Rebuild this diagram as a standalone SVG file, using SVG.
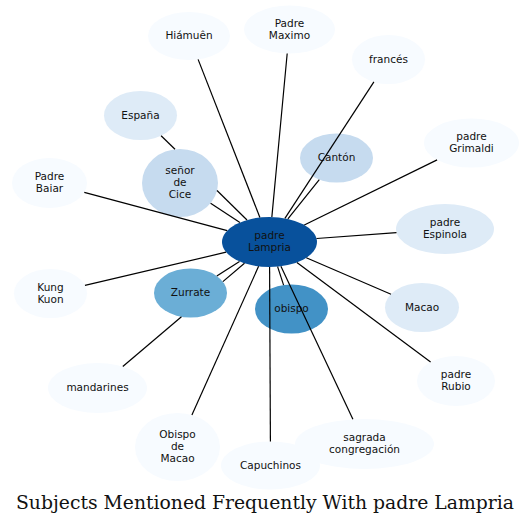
<svg xmlns="http://www.w3.org/2000/svg" width="531" height="526" viewBox="0 0 531 526">
<style>
.n text{font-family:"DejaVu Sans",sans-serif;font-size:10.5px;text-anchor:middle;fill:#111}
.c0{fill:#f7fbff}.c1{fill:#deebf7}.c2{fill:#c6dbef}.c3{fill:#6baed6}.c4{fill:#4292c6}.c5{fill:#08519c}
#edges line{stroke:#000;stroke-width:1.2}
.title{font-family:"DejaVu Serif","Liberation Serif",serif;font-size:18px;text-anchor:middle;fill:#111}
</style>
<rect width="531" height="526" fill="#fff"/>
<g id="nodes" class="n">
<g id="n-hiamuen"><ellipse class="c0" cx="189" cy="36" rx="41" ry="24"/><text x="189" y="39">Hiámuên</text></g>
<g id="n-maximo"><ellipse class="c0" cx="289.5" cy="29.5" rx="45.5" ry="24"/><text x="289.5" y="26.6">Padre</text><text x="289.5" y="38.8">Maximo</text></g>
<g id="n-frances"><ellipse class="c0" cx="388.5" cy="59.5" rx="36.5" ry="24.5"/><text x="388.5" y="62.5">francés</text></g>
<g id="n-espana"><ellipse class="c1" cx="140.5" cy="115.5" rx="36.5" ry="24.5"/><text x="140.5" y="118.5">España</text></g>
<g id="n-cice"><ellipse class="c2" cx="180" cy="183" rx="38" ry="34"/><text x="180" y="174">señor</text><text x="180" y="185.8">de</text><text x="180" y="197.6">Cice</text></g>
<g id="n-baiar"><ellipse class="c0" cx="49.5" cy="183" rx="37.5" ry="25"/><text x="49.5" y="180.1">Padre</text><text x="49.5" y="192.3">Baiar</text></g>
<g id="n-canton"><ellipse class="c2" cx="336.5" cy="158" rx="36.5" ry="24.5"/><text x="336.5" y="161">Cantón</text></g>
<g id="n-grimaldi"><ellipse class="c0" cx="471.5" cy="143" rx="47.5" ry="24.5"/><text x="471.5" y="140.1">padre</text><text x="471.5" y="152.3">Grimaldi</text></g>
<g id="n-espinola"><ellipse class="c1" cx="445" cy="229" rx="49" ry="25"/><text x="445" y="226.1">padre</text><text x="445" y="238.3">Espinola</text></g>
<g id="n-kung"><ellipse class="c0" cx="50.5" cy="293.5" rx="36.5" ry="24.5"/><text x="50.5" y="290.6">Kung</text><text x="50.5" y="302.8">Kuon</text></g>
<g id="n-zurrate"><ellipse class="c3" cx="190.5" cy="293" rx="36.5" ry="24.5"/><text x="190.5" y="296">Zurrate</text></g>
<g id="n-obispo"><ellipse class="c4" cx="291.5" cy="309" rx="36.5" ry="24.5"/><text x="291.5" y="312">obispo</text></g>
<g id="n-macao"><ellipse class="c1" cx="422" cy="307.5" rx="37" ry="24.5"/><text x="422" y="310.5">Macao</text></g>
<g id="n-rubio"><ellipse class="c0" cx="456" cy="381" rx="39" ry="25"/><text x="456" y="378.1">padre</text><text x="456" y="390.3">Rubio</text></g>
<g id="n-mandarines"><ellipse class="c0" cx="97.5" cy="388" rx="49.5" ry="25"/><text x="97.5" y="391">mandarines</text></g>
<g id="n-obispomacao"><ellipse class="c0" cx="177.5" cy="447" rx="42.5" ry="34"/><text x="177.5" y="438">Obispo</text><text x="177.5" y="449.8">de</text><text x="177.5" y="461.6">Macao</text></g>
<g id="n-capuchinos"><ellipse class="c0" cx="270.5" cy="465.5" rx="49.5" ry="24"/><text x="270.5" y="468.5">Capuchinos</text></g>
<g id="n-sagrada"><ellipse class="c0" cx="364.5" cy="444" rx="69.5" ry="25"/><text x="364.5" y="441.1">sagrada</text><text x="364.5" y="453.3">congregación</text></g>
<g id="n-lampria"><ellipse class="c5" cx="269.5" cy="242" rx="47.5" ry="25"/><text x="269.5" y="239.1">padre</text><text x="269.5" y="251.3">Lampria</text></g>
</g>
<g id="edges">
<line x1="259.9" y1="217.5" x2="198.1" y2="59.4"/>
<line x1="271.85" y1="217" x2="287.2" y2="53.5"/>
<line x1="284.9" y1="218.35" x2="373.9" y2="81.95"/>
<line x1="161.1" y1="135.7" x2="175" y2="149.3"/>
<line x1="217" y1="190.5" x2="247" y2="220"/>
<line x1="239.9" y1="222.5" x2="210.6" y2="203.2"/>
<line x1="227.2" y1="230.65" x2="84.3" y2="192.3"/>
<line x1="287.9" y1="218.95" x2="319.3" y2="179.6"/>
<line x1="304.3" y1="224.96" x2="437.1" y2="159.9"/>
<line x1="316.5" y1="238.5" x2="396.5" y2="232.6"/>
<line x1="226.1" y1="252.2" x2="84.95" y2="285.4"/>
<line x1="239.5" y1="261.4" x2="216.8" y2="276"/>
<line x1="122.8" y1="366.5" x2="181.45" y2="316.74"/>
<line x1="222.85" y1="281.6" x2="244.5" y2="263.25"/>
<line x1="277.6" y1="266.6" x2="283.6" y2="285.1"/>
<line x1="306.3" y1="257.8" x2="391" y2="294.2"/>
<line x1="296.9" y1="262.4" x2="430.6" y2="362"/>
<line x1="258.6" y1="266.3" x2="191.9" y2="415"/>
<line x1="269.6" y1="267" x2="270.4" y2="441.5"/>
<line x1="280.9" y1="266.3" x2="352.9" y2="419.35"/>
</g>
<text class="title" x="265" y="508.5" textLength="498" lengthAdjust="spacingAndGlyphs">Subjects Mentioned Frequently With padre Lampria</text>
</svg>
